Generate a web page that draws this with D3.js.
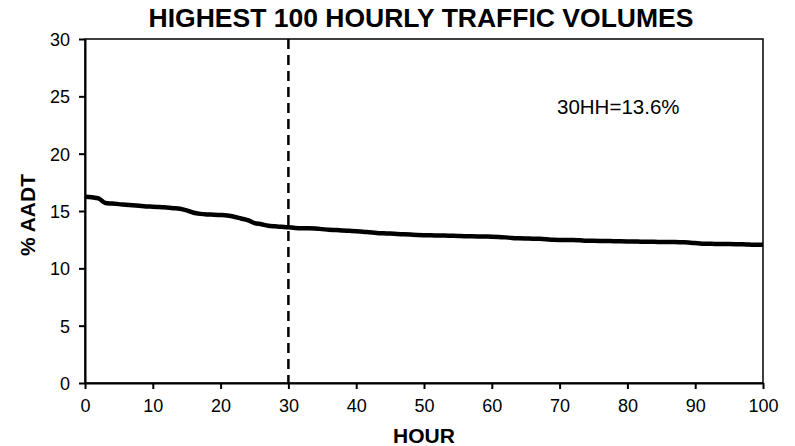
<!DOCTYPE html>
<html>
<head>
<meta charset="utf-8">
<script src="https://cdn.jsdelivr.net/npm/d3@7"></script>
<style>
  body { margin: 0; background: #fff; }
  text { font-family: "Liberation Sans", Arial, sans-serif; fill: #000; }
</style>
</head>
<body>
<div id="chart"></div>
<script>
// % AADT for the highest 100 hours, ranked (hour 0..100)
const hourPct = [
  16.25, 16.2, 16.1, 15.7, 15.65, 15.6, 15.55, 15.5, 15.45, 15.4,
  15.38, 15.35, 15.3, 15.25, 15.2, 15.05, 14.85, 14.75, 14.7, 14.68,
  14.65, 14.6, 14.5, 14.35, 14.2, 13.95, 13.85, 13.72, 13.66, 13.62,
  13.58, 13.52, 13.5, 13.5, 13.48, 13.42, 13.36, 13.34, 13.3, 13.27,
  13.24, 13.2, 13.14, 13.08, 13.05, 13.04, 13.0, 12.97, 12.94, 12.91,
  12.89, 12.88, 12.87, 12.86, 12.84, 12.82, 12.8, 12.79, 12.78, 12.77,
  12.76, 12.74, 12.7, 12.65, 12.62, 12.6, 12.59, 12.57, 12.54, 12.5,
  12.48, 12.47, 12.47, 12.44, 12.41, 12.4, 12.39, 12.38, 12.37, 12.36,
  12.35, 12.34, 12.32, 12.31, 12.31, 12.3, 12.3, 12.29, 12.27, 12.25,
  12.2, 12.15, 12.14, 12.13, 12.13, 12.12, 12.11, 12.1, 12.07, 12.05,
  12.05
];
const xTicks = [0, 10, 20, 30, 40, 50, 60, 70, 80, 90, 100];
const yTicks = [0, 5, 10, 15, 20, 25, 30];
const markHour = 30;
const markLabel = "30HH=13.6%";

const width = 795, height = 446;
const margin = { top: 39, right: 32, bottom: 63, left: 85 };

const svg = d3.select("#chart")
  .append("svg")
  .attr("width", width)
  .attr("height", height);

const x = d3.scaleLinear()
  .domain([0, 100])
  .range([margin.left, width - margin.right]);

const y = d3.scaleLinear()
  .domain([0, 30])
  .range([height - margin.bottom, margin.top]);

// frame (top and right)
svg.append("rect")
  .attr("x", x(0))
  .attr("y", y(30))
  .attr("width", x(100) - x(0))
  .attr("height", y(0) - y(30))
  .attr("fill", "none")
  .attr("stroke", "#000")
  .attr("stroke-width", 1.5);

const xAxis = svg.append("g")
  .attr("transform", `translate(0, ${y(0)})`)
  .call(d3.axisBottom(x).tickValues(xTicks).tickSize(6).tickSizeOuter(0).tickPadding(10));

const yAxis = svg.append("g")
  .attr("transform", `translate(${x(0)}, 0)`)
  .call(d3.axisLeft(y).tickValues(yTicks).tickSize(6).tickSizeOuter(0).tickPadding(9));

[xAxis, yAxis].forEach(g => {
  g.select(".domain").attr("stroke-width", 2);
  g.selectAll(".tick line").attr("stroke-width", 2);
  g.selectAll(".tick text")
    .style("font-family", "'Liberation Sans', Arial, sans-serif")
    .style("font-size", "18px")
    .attr("fill", "#000");
});
yAxis.selectAll(".tick text").attr("dy", "0.36em");

// dashed marker at 30th hour
svg.append("line")
  .attr("x1", x(markHour))
  .attr("x2", x(markHour))
  .attr("y1", y(30))
  .attr("y2", y(0))
  .attr("stroke", "#000")
  .attr("stroke-width", 2.5)
  .attr("stroke-dasharray", "10,6");

const line = d3.line()
  .x((d, i) => x(i))
  .y(d => y(d))
  .curve(d3.curveMonotoneX);

svg.append("path")
  .datum(hourPct)
  .attr("fill", "none")
  .attr("stroke", "#000")
  .attr("stroke-width", 4.5)
  .attr("stroke-linejoin", "round")
  .attr("d", line);

svg.append("text")
  .attr("x", 557)
  .attr("y", 114)
  .style("font-size", "20.5px")
  .text(markLabel);

svg.append("text")
  .attr("x", 421)
  .attr("y", 27)
  .attr("text-anchor", "middle")
  .style("font-size", "26.5px")
  .style("font-weight", "bold")
  .text("HIGHEST 100 HOURLY TRAFFIC VOLUMES");

svg.append("text")
  .attr("x", (x(0) + x(100)) / 2)
  .attr("y", 443)
  .attr("text-anchor", "middle")
  .style("font-size", "21px")
  .style("font-weight", "bold")
  .text("HOUR");

svg.append("text")
  .attr("transform", `translate(35, ${(y(0) + y(30)) / 2 + 4}) rotate(-90)`)
  .attr("text-anchor", "middle")
  .style("font-size", "21px")
  .style("font-weight", "bold")
  .text("% AADT");
</script>
</body>
</html>
